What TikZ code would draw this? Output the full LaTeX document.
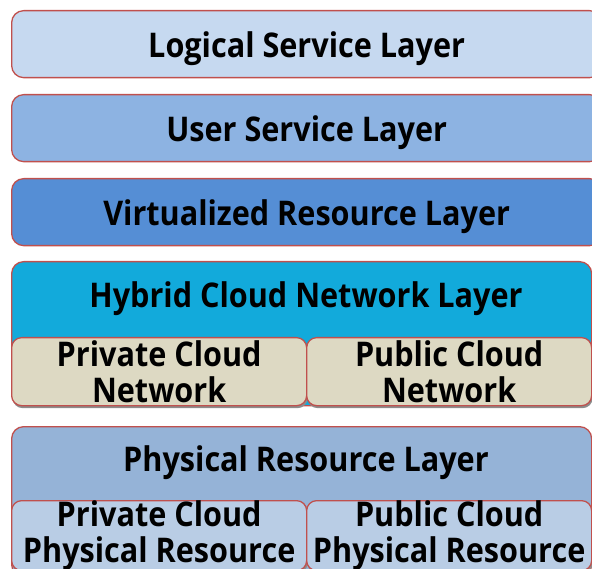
\documentclass[tikz,border=0pt]{standalone}
\usepackage{fontspec}
\newfontfamily\layerfont{Open Sans}[FakeStretch=0.9]
\usepackage{tikz}
\usetikzlibrary{
  positioning,
  shadows
}
\definecolor{edgered}{HTML}{C0504D}
\definecolor{logicalblue}{HTML}{C6D9F0}
\definecolor{userblue}{HTML}{8DB3E2}
\definecolor{virtblue}{HTML}{558ED5}
\definecolor{hybridcyan}{HTML}{12AADB}
\definecolor{netbeige}{HTML}{DDD9C3}
\definecolor{physblue}{HTML}{95B3D7}
\definecolor{physsub}{HTML}{B9CDE5}

\begin{document}
\begin{tikzpicture}[
    x=1pt, y=-1pt,
    layer/.style={draw=edgered, line width=1.3pt, rounded corners=12pt,
                  anchor=north west, inner sep=0pt,
                  font=\layerfont\bfseries\fontsize{34}{36}\selectfont},
    single/.style={layer, text depth=0pt, minimum width=590pt,
                   minimum height=67pt},
    sub/.style={layer, rounded corners=10pt, align=center,
                drop shadow={shadow xshift=1pt, shadow yshift=-2.5pt,
                             fill=black!45, opacity=1}},
    ttl/.style={font=\layerfont\bfseries\fontsize{34}{36}\selectfont}
  ]
    \useasboundingbox (0,0) rectangle (592,569);
    \begin{scope}
    \clip (0,0) rectangle (592,569);
    % single layers
    \node[single, fill=logicalblue] (logical) at (11,10) {Logical Service Layer};
    \node[single, fill=userblue] (user) at (11,94) {User Service Layer};
    \node[single, fill=virtblue] (virt) at (11,178) {Virtualized Resource Layer};
    % hybrid network layer
    \node[layer, fill=hybridcyan, minimum width=580pt, minimum height=144pt]
      (hybrid) at (11,261) {};
    \node[ttl] (hybridttl) at (306,299) {Hybrid Cloud Network Layer};
    \node[sub, fill=netbeige, minimum width=295pt, minimum height=68pt]
      (privnet) at (11,337) {Private Cloud\\Network};
    \node[sub, fill=netbeige, minimum width=285pt, minimum height=68pt]
      (pubnet) at (306,337) {Public Cloud\\Network};
    % physical layer
    \node[layer, fill=physblue, minimum width=580pt, minimum height=150pt]
      (phys) at (11,426) {};
    \node[ttl] (physttl) at (306,463) {Physical Resource Layer};
    \node[sub, fill=physsub, minimum width=295pt, minimum height=68pt]
      (privphys) at (11,500) {Private Cloud\\Physical Resource};
    \node[sub, fill=physsub, minimum width=285pt, minimum height=68pt]
      (pubphys) at (306,500) {Public Cloud\\Physical Resource};
    \end{scope}
  \end{tikzpicture}
\end{document}
